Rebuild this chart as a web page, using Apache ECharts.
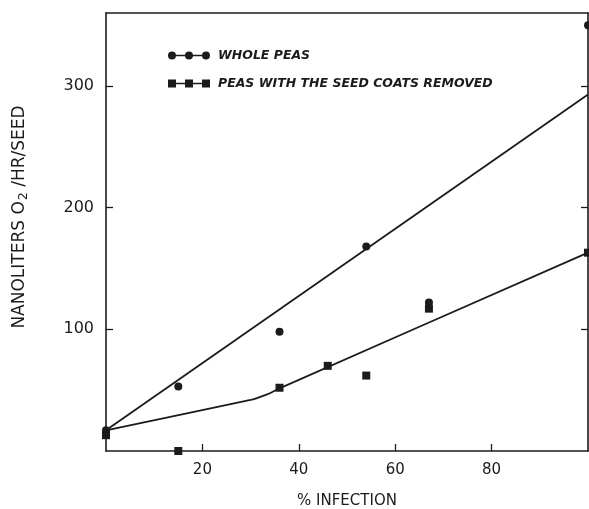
<!DOCTYPE html>
<html>
<head>
<meta charset="utf-8">
<script src="https://cdn.jsdelivr.net/npm/echarts@6/dist/echarts.min.js"></script>
<style>
  html, body { margin: 0; padding: 0; background: #fff; }
  #main { width: 589px; height: 509px; }
</style>
</head>
<body>
<div id="main"></div>
<script>
// measured points (% infection, nl O2/hr/seed)
var wholeX = [0, 15, 36, 54, 67, 100];
var wholeY = [17, 53, 98, 168, 122, 350];
var coatX = [0, 15, 36, 46, 54, 67, 100];
var coatY = [13, 0, 52, 70, 62, 117, 163];

// hand drawn fit lines
var wholeFitX = [0, 100];
var wholeFitY = [17, 293];
var coatFitX = [0, 30, 32, 34, 36, 100];
var coatFitY = [17, 42, 44.5, 47.5, 51.5, 163];

var xTicks = [20, 40, 60, 80];
var yTicks = [100, 200, 300];

function pairs(xs, ys) {
  return xs.map(function (x, i) { return [x, ys[i]]; });
}

var ink = '#1b1b1b';
var font = 'DejaVu Sans';

var circleIcon = 'path://M0,4 A4,4 0 1,1 8,4 A4,4 0 1,1 0,4 Z M17,4 A4,4 0 1,1 25,4 A4,4 0 1,1 17,4 Z M34,4 A4,4 0 1,1 42,4 A4,4 0 1,1 34,4 Z M4,3.3 L38,3.3 L38,4.7 L4,4.7 Z';
var squareIcon = 'path://M0,0 L8,0 L8,8 L0,8 Z M17,0 L25,0 L25,8 L17,8 Z M34,0 L42,0 L42,8 L34,8 Z M4,3.3 L38,3.3 L38,4.7 L4,4.7 Z';

var myChart = echarts.init(document.getElementById('main'));
myChart.setOption({
  animation: false,
  backgroundColor: '#fff',
  grid: { left: 106, right: 1, top: 13, bottom: 58, outerBoundsMode: 'none', containLabel: false },
  legend: {
    orient: 'vertical',
    left: 163, top: 44,
    itemWidth: 42, itemHeight: 8, itemGap: 15,
    selectedMode: false,
    textStyle: { fontFamily: font, fontStyle: 'italic', fontWeight: 'bold', fontSize: 12.5, color: ink, padding: [0, 0, 0, 3] },
    data: [
      { name: 'WHOLE PEAS', icon: circleIcon },
      { name: 'PEAS WITH THE SEED COATS REMOVED', icon: squareIcon }
    ]
  },
  xAxis: [{
    type: 'value', min: 0, max: 100, interval: 20,
    name: '% INFECTION', nameLocation: 'middle', nameGap: 43,
    nameTextStyle: { fontFamily: font, fontSize: 15, color: ink },
    axisLine: { onZero: false, lineStyle: { color: ink, width: 1.6 } },
    axisTick: { inside: true, length: 7, customValues: xTicks, lineStyle: { color: ink, width: 1.3 } },
    axisLabel: { fontFamily: font, fontSize: 15, color: ink, margin: 12, customValues: xTicks },
    splitLine: { show: false }
  }, {
    type: 'value', min: 0, max: 100, position: 'top',
    axisLine: { show: true, onZero: false, lineStyle: { color: ink, width: 1.6 } },
    axisTick: { show: false }, axisLabel: { show: false }, splitLine: { show: false }
  }],
  yAxis: [{
    type: 'value', min: 0, max: 360, interval: 100,
    name: 'NANOLITERS O{sub|2} /HR/SEED', nameLocation: 'middle', nameGap: 76, nameRotate: 90,
    nameTextStyle: {
      fontFamily: font, fontSize: 17, color: ink, padding: [0, 0, 0, 30],
      rich: { sub: { fontFamily: font, fontSize: 12.5, color: ink, verticalAlign: 'top', padding: [8, 0, 0, 1] } }
    },
    axisLine: { show: true, onZero: false, lineStyle: { color: ink, width: 1.6 } },
    axisTick: { inside: true, length: 7, customValues: yTicks, lineStyle: { color: ink, width: 1.3 } },
    axisLabel: { fontFamily: font, fontSize: 16, color: ink, margin: 12, customValues: yTicks },
    splitLine: { show: false }
  }, {
    type: 'value', min: 0, max: 360, interval: 100, position: 'right',
    axisLine: { show: true, onZero: false, lineStyle: { color: ink, width: 1.6 } },
    axisTick: { inside: true, length: 7, customValues: yTicks, lineStyle: { color: ink, width: 1.3 } },
    axisLabel: { show: false }, splitLine: { show: false }
  }],
  series: [
    {
      name: 'WHOLE PEAS', type: 'scatter', symbol: 'circle', symbolSize: 8,
      itemStyle: { color: ink, opacity: 1 }, data: pairs(wholeX, wholeY), z: 3
    },
    {
      name: 'PEAS WITH THE SEED COATS REMOVED', type: 'scatter', symbol: 'rect', symbolSize: 8,
      itemStyle: { color: ink, opacity: 1 }, data: pairs(coatX, coatY), z: 3
    },
    {
      name: 'whole fit', type: 'line', showSymbol: false, symbol: 'none',
      lineStyle: { color: ink, width: 1.8 }, data: pairs(wholeFitX, wholeFitY)
    },
    {
      name: 'coat fit', type: 'line', showSymbol: false, symbol: 'none', smooth: 0.3,
      lineStyle: { color: ink, width: 1.8 }, data: pairs(coatFitX, coatFitY)
    }
  ]
});
</script>
</body>
</html>
